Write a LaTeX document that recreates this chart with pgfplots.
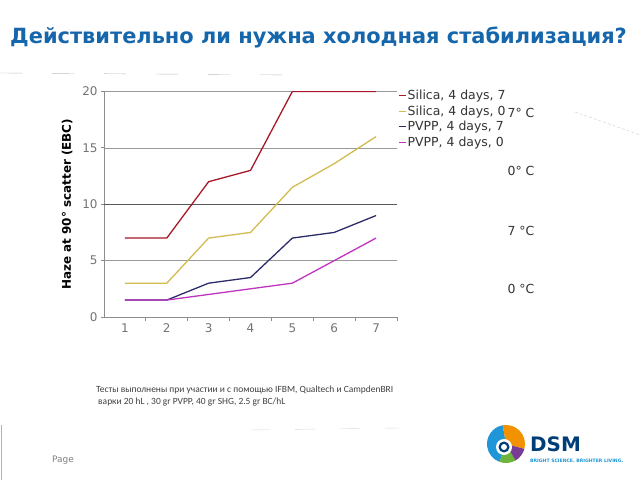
\documentclass[border=0pt]{standalone}
\usepackage{pgfplots}
\pgfplotsset{compat=1.18}
\usetikzlibrary{calc}
\usepackage{fontspec}
\setmainfont{DejaVu Sans}
\newfontfamily\carl{Carlito}

\definecolor{titleblue}{RGB}{22,102,172}
\definecolor{silicaseven}{RGB}{168,24,40}
\definecolor{silicazero}{RGB}{210,188,80}
\definecolor{pvppseven}{RGB}{44,44,104}
\definecolor{pvppzero}{RGB}{192,52,192}
\definecolor{dsmblue}{RGB}{0,62,122}
\definecolor{dsmcyan}{RGB}{30,150,215}
\definecolor{dsmorange}{RGB}{243,146,0}
\definecolor{dsmgreen}{RGB}{110,180,60}
\definecolor{dsmpurple}{RGB}{120,60,150}

\begin{document}
\begin{tikzpicture}[x=1bp,y=1bp]
\fill[white] (0,0) rectangle (640,480);
\useasboundingbox (0,0) rectangle (640,480);

% slide title
\node[anchor=base west, inner sep=0, text=titleblue,
      font=\fontsize{21}{24}\selectfont\bfseries] at (10,436.5)
  {Действительно ли нужна холодная стабилизация?};
\draw[black!25, dash pattern=on 22bp off 30bp] (0,407) -- (300,405);
\draw[black!20, densely dashed] (575,368) -- (640,345);

\begin{axis}[
    at={(104bp,163bp)}, anchor=south west,
    scale only axis, width=293bp, height=225.5bp,
    xmin=0.5, xmax=7.5, ymin=0, ymax=20,
    axis lines*=left,
    axis line style={draw=black!45, line width=0.8pt},
    xtick={1,...,7},
    ytick={0,5,10,15,20},
    minor xtick={1.5,2.5,...,7.5},
    major x tick style={draw=none},
    minor x tick style={draw=black!45, line width=0.8pt},
    y tick style={draw=black!45, line width=0.8pt},
    tick align=outside,
    major tick length=3bp, minor tick length=4bp,
    ymajorgrids,
    grid style={black!40, line width=0.7pt},
    extra y ticks={10}, extra y tick labels={},
    extra y tick style={grid style={black!65, line width=0.9pt}},
    /pgf/number format/assume math mode=true,
    ticklabel style={font=\fontsize{12}{14}\selectfont, text=black!55},
    ylabel={Haze at 90° scatter (EBC)},
    ylabel shift=-3bp,
    ylabel style={font=\fontsize{12}{14}\selectfont\bfseries, text=black},
    legend style={at={(1,1)}, anchor=north west, xshift=1bp, yshift=3bp,
                  draw=none, fill=none, inner sep=0pt, row sep=1.5bp,
                  font=\fontsize{12.5}{14}\selectfont, text=black!80,
                  nodes={inner sep=1.5bp}},
    legend cell align=left,
    legend image code/.code={\draw[#1, line width=1pt] (0bp,0bp) -- (7bp,0bp);},
]
\addplot[silicaseven, line width=1.3pt] coordinates {
    (1,7)(2,7)(3,12)(4,13)(5,20)(6,20)(7,20)};
\addplot[silicazero, line width=1.3pt] coordinates {
    (1,3)(2,3)(3,7)(4,7.5)(5,11.5)(6,13.6)(7,16)};
\addplot[pvppseven, line width=1.3pt] coordinates {
    (1,1.5)(2,1.5)(3,3)(4,3.5)(5,7)(6,7.5)(7,9)};
\addplot[pvppzero, line width=1.3pt] coordinates {
    (1,1.5)(2,1.5)(3,2)(4,2.5)(5,3)(6,5)(7,7)};
\legend{{Silica, 4 days, 7}, {Silica, 4 days, 0}, {PVPP, 4 days, 7}, {PVPP, 4 days, 0}}
\end{axis}

% temperature notes beside the legend
\begin{scope}[every node/.style={font=\fontsize{12.5}{14}\selectfont, text=black!80, inner sep=0}]
\node at (521,367) {7° C};
\node at (521,309) {0° C};
\node at (521,249) {7 °C};
\node at (521,191) {0 °C};
\end{scope}

% footnote
\node[anchor=base west, inner sep=0, font=\carl\fontsize{9.5}{11}\selectfont, text=black!75] at (96,87)
  {Тесты выполнены при участии и с помощью IFBM, Qualtech и CampdenBRI};
\node[anchor=base west, inner sep=0, font=\carl\fontsize{9.5}{11}\selectfont, text=black!75] at (98,75)
  {варки 20 hL , 30 gr PVPP, 40 gr SHG, 2.5 gr BC/hL};
\draw[black!15, dash pattern=on 20bp off 25bp] (250,50) -- (400,52);

% page footer
\draw[black!30, line width=0.8pt] (1,0) -- (1,55);
\node[anchor=base west, inner sep=0, font=\fontsize{9}{10}\selectfont, text=black!50] at (52,17) {Page};

% DSM logo
\coordinate (c) at (506,36);
\fill[dsmcyan] (c) -- ++(100:19) arc (100:250:19) -- cycle;
\fill[dsmorange] (c) -- ++(-15:19) arc (-15:100:19) -- cycle;
\fill[dsmgreen] (c) -- ++(250:19) arc (250:300:19) -- cycle;
\fill[dsmpurple] (c) -- ++(300:19) arc (300:345:19) -- cycle;
\fill[white] ($(c)+(-2,-3)$) circle (8);
\fill[dsmblue] ($(c)+(-2,-3)$) circle (5.5);
\fill[white] ($(c)+(-2,-3)$) circle (3);
\node[anchor=base west, inner sep=0, text=dsmblue, font=\fontsize{20}{22}\selectfont\bfseries] at (530,28) {DSM};
\node[anchor=base west, inner sep=0, text=dsmcyan, font=\fontsize{4.6}{5}\selectfont\bfseries] at (530,17) {BRIGHT SCIENCE. BRIGHTER LIVING.};
\end{tikzpicture}
\end{document}
